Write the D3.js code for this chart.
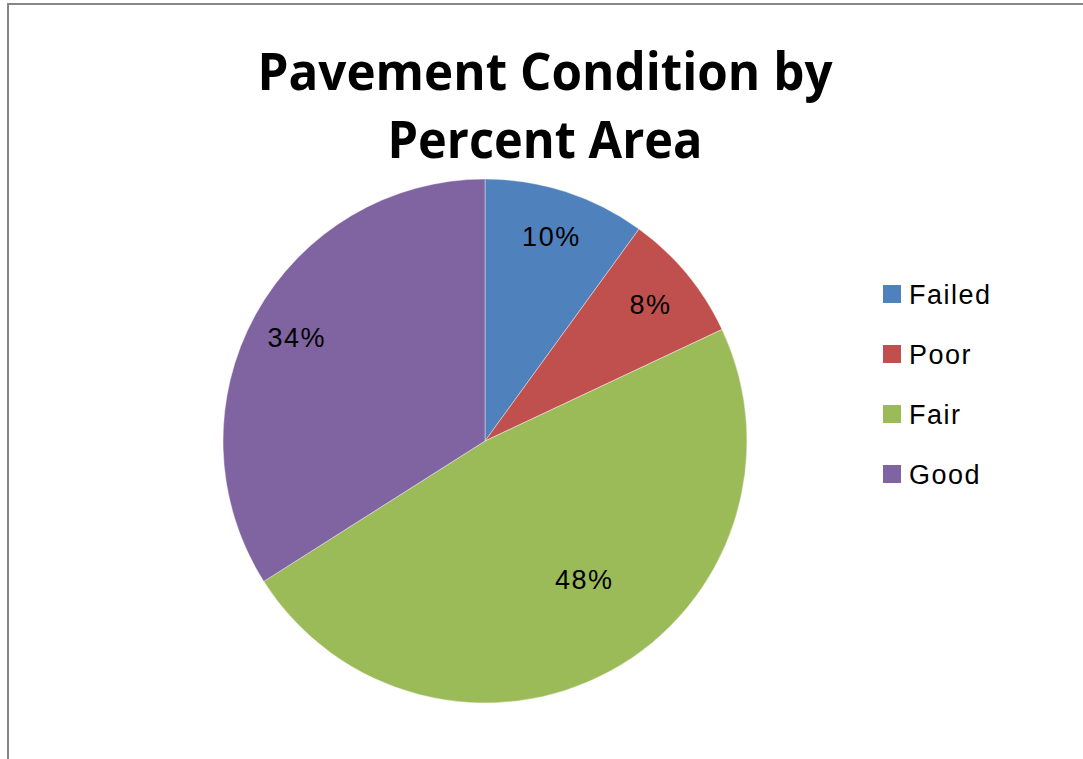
<!DOCTYPE html>
<html>
<head>
<meta charset="utf-8">
<script src="https://cdn.jsdelivr.net/npm/d3@7/dist/d3.min.js"></script>
<style>
  html, body { margin: 0; padding: 0; background: #fff; overflow: hidden; }
  svg { display: block; }
</style>
</head>
<body>
<svg id="chart" width="1083" height="759"></svg>
<script>
const categories = ["Failed", "Poor", "Fair", "Good"];
const values = [10, 8, 48, 34];
const colors = ["#4F81BD", "#C0504D", "#9BBB59", "#8064A2"];
const titleLines = ["Pavement Condition by", "Percent Area"];

const svg = d3.select("#chart");
const W = 1083, H = 759;

// frame
svg.append("rect").attr("x", 8).attr("y", 4).attr("width", W).attr("height", H)
  .attr("fill", "#fff").attr("stroke", "#868686").attr("stroke-width", 2);

// title
const titleW = [575, 315];
svg.selectAll("text.title").data(titleLines).join("text")
  .attr("class", "title")
  .attr("x", 545)
  .attr("y", (d, i) => 90 + i * 68)
  .attr("text-anchor", "middle")
  .attr("font-family", "'Open Sans', 'Liberation Sans', sans-serif")
  .attr("font-weight", "bold")
  .attr("font-size", 52)
  .attr("textLength", (d, i) => titleW[i])
  .attr("lengthAdjust", "spacingAndGlyphs")
  .attr("fill", "#000")
  .text(d => d);

// pie
const cx = 485, cy = 441, R = 262;
const pie = d3.pie().sort(null).value(d => d.v);
const data = categories.map((c, i) => ({ c, v: values[i], col: colors[i] }));
const arcs = pie(data);
const arc = d3.arc().innerRadius(0).outerRadius(R);
const g = svg.append("g").attr("transform", `translate(${cx},${cy})`);
g.selectAll("path").data(arcs).join("path")
  .attr("d", arc)
  .attr("fill", d => d.data.col)
  .attr("stroke", "#fff")
  .attr("stroke-opacity", 0.4)
  .attr("stroke-width", 1);

const total = d3.sum(values);
g.selectAll("text.lbl").data(arcs).join("text")
  .attr("class", "lbl")
  .attr("transform", d => {
    let a = (d.startAngle + d.endAngle) / 2;
    const share = d.data.v / total;
    let r = R * 0.82;
    if (share > 0.4) { r = R * 0.65; a -= 0.12; }
    return `translate(${Math.sin(a) * r},${-Math.cos(a) * r})`;
  })
  .attr("text-anchor", "middle")
  .attr("dy", "0.36em")
  .attr("font-family", "'Liberation Sans', sans-serif")
  .attr("font-size", 27)
  .attr("letter-spacing", 1.5)
  .attr("fill", "#000")
  .text(d => Math.round(d.data.v / total * 100) + "%");

// legend
const lg = svg.append("g");
const items = lg.selectAll("g").data(data).join("g")
  .attr("transform", (d, i) => `translate(883,${285 + i * 60})`);
items.append("rect").attr("width", 18).attr("height", 18).attr("fill", d => d.col);
items.append("text")
  .attr("x", 26).attr("y", 9).attr("dy", "0.36em")
  .attr("font-family", "'Liberation Sans', sans-serif")
  .attr("font-size", 27)
  .attr("letter-spacing", 1.5)
  .attr("fill", "#000")
  .text(d => d.c);
</script>
</body>
</html>
